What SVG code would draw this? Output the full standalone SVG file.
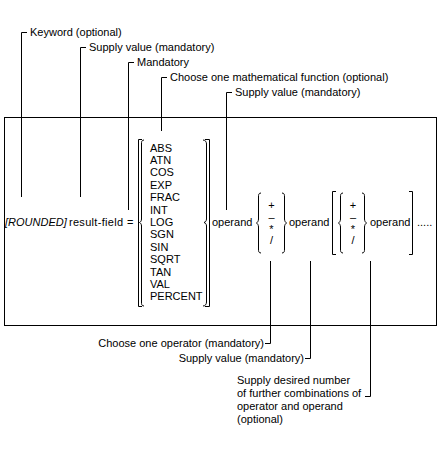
<svg xmlns="http://www.w3.org/2000/svg" width="440" height="450" viewBox="0 0 440 450">
<style>
text{font-family:"Liberation Sans",Arial,sans-serif;font-size:11px;fill:#000}
.ln{fill:none;stroke:#000;stroke-width:1}
.it{font-style:italic}
</style>
<rect width="440" height="450" fill="#fff"/>
<g id="frame"><rect class="ln" x="4.5" y="117.5" width="432" height="208"/></g>
<g id="connectors">
<path class="ln" d="M27,32.5H21.5V197"/>
<path class="ln" d="M86,47.5H80.5V197"/>
<path class="ln" d="M134,62.5H128.5V210"/>
<path class="ln" d="M167,77.5H161.5V131"/>
<path class="ln" d="M232,92.5H226.5V210"/>
<path class="ln" d="M270.5,261V343.5H265"/>
<path class="ln" d="M310.5,261V358.5H305"/>
<path class="ln" d="M370.5,261V396.5H365"/>
</g>
<g id="labels-top">
<text x="30" y="36">Keyword (optional)</text>
<text x="89" y="51">Supply value (mandatory)</text>
<text x="137" y="66">Mandatory</text>
<text x="170" y="81">Choose one mathematical function (optional)</text>
<text x="235" y="96">Supply value (mandatory)</text>
</g>
<g id="keyword"><text class="it" x="5" y="226">[ROUNDED]</text></g>
<g id="result-field"><text x="69" y="226" textLength="54">result-field</text></g>
<g id="equals"><text x="127" y="226">=</text></g>
<g id="functions">
<path class="ln" d="M142,139.5H138.5V306.5H142"/>
<path class="ln" d="M144,140C141.5,140 141.5,142 141.5,144V219C141.5,221 140.5,222 139.5,222.5C140.5,223 141.5,224 141.5,226V302C141.5,304 141.5,306 144,306"/>
<path class="ln" d="M205,139.5H209.5V306.5H205"/>
<path class="ln" d="M203,140C205.5,140 206.5,142 206.5,144V219C206.5,221 205.5,222 204,222.5C205.5,223 206.5,224 206.5,226V302C206.5,304 205.5,306 203,306"/>
<text x="150" y="151.6">ABS</text>
<text x="150" y="164">ATN</text>
<text x="150" y="176.4">COS</text>
<text x="150" y="188.8">EXP</text>
<text x="150" y="201.2">FRAC</text>
<text x="150" y="213.6">INT</text>
<text x="150" y="226">LOG</text>
<text x="150" y="238.4">SGN</text>
<text x="150" y="250.8">SIN</text>
<text x="150" y="263.2">SQRT</text>
<text x="150" y="275.6">TAN</text>
<text x="150" y="288">VAL</text>
<text x="150" y="300.4">PERCENT</text>
</g>
<g id="operand1"><text x="212" y="226">operand</text></g>
<g id="operators1">
<path class="ln" d="M261,193C258.5,193 258.5,195 258.5,197V219C258.5,221 257.5,222.5 256.5,223C257.5,223.5 258.5,225 258.5,227V249C258.5,251 258.5,253 261,253"/>
<path class="ln" d="M282,193C284.5,193 284.5,195 284.5,197V219C284.5,221 285.5,222.5 286.5,223C285.5,223.5 284.5,225 284.5,227V249C284.5,251 284.5,253 282,253"/>
<text x="271.5" y="209" text-anchor="middle">+</text>
<text x="271.5" y="221" text-anchor="middle">–</text>
<text x="271.5" y="233" text-anchor="middle">*</text>
<text x="271.5" y="244" text-anchor="middle">/</text>
</g>
<g id="operand2"><text x="289" y="226">operand</text></g>
<g id="repeat">
<path class="ln" d="M336,191.5H332.5V254.5H336"/>
<path class="ln" d="M343,193C340.5,193 340.5,195 340.5,197V219C340.5,221 339.5,222.5 338.5,223C339.5,223.5 340.5,225 340.5,227V249C340.5,251 340.5,253 343,253"/>
<path class="ln" d="M362,193C364.5,193 364.5,195 364.5,197V219C364.5,221 365.5,222.5 366.5,223C365.5,223.5 364.5,225 364.5,227V249C364.5,251 364.5,253 362,253"/>
<text x="353" y="209" text-anchor="middle">+</text>
<text x="353" y="221" text-anchor="middle">–</text>
<text x="353" y="233" text-anchor="middle">*</text>
<text x="353" y="244" text-anchor="middle">/</text>
<text x="370" y="226">operand</text>
<path class="ln" d="M409,191.5H412.5V254.5H409"/>
<text x="417" y="226">.....</text>
</g>
<g id="labels-bottom">
<text x="264" y="347" text-anchor="end">Choose one operator (mandatory)</text>
<text x="304" y="362" text-anchor="end">Supply value (mandatory)</text>
<text x="237" y="384">Supply desired number</text>
<text x="237" y="397">of further combinations of</text>
<text x="237" y="410">operator and operand</text>
<text x="237" y="423">(optional)</text>
</g>
</svg>
